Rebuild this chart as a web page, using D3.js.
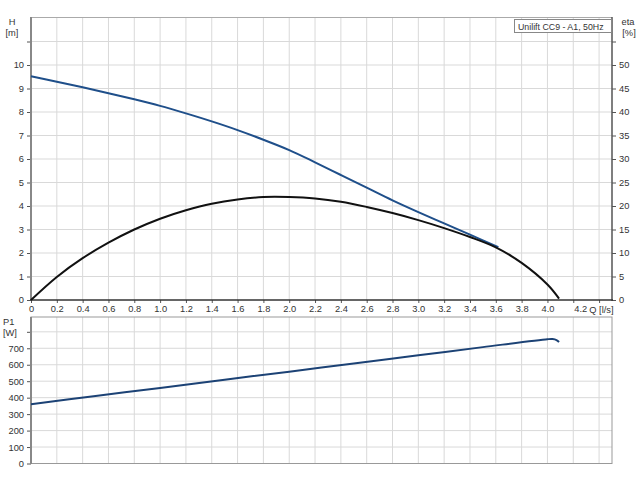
<!DOCTYPE html>
<html><head><meta charset="utf-8">
<script src="https://cdn.jsdelivr.net/npm/d3@7"></script>
<style>
body{margin:0;background:#fff;}
svg text{font-family:"Liberation Sans",Arial,sans-serif;fill:#333;}
</style></head>
<body>
<svg id="c" width="640" height="480"></svg>
<script>
// ---- data ----
const headQ   = [0,0.2,0.4,0.6,0.8,1.0,1.2,1.4,1.6,1.8,2.0,2.2,2.4,2.6,2.8,3.0,3.2,3.4,3.62];
const headH   = [9.52,9.29,9.05,8.80,8.54,8.26,7.94,7.60,7.23,6.82,6.38,5.86,5.32,4.78,4.24,3.74,3.26,2.78,2.25];
const etaQ    = [0,0.2,0.4,0.6,0.8,1.0,1.2,1.4,1.6,1.8,2.0,2.2,2.4,2.6,2.8,3.0,3.2,3.4,3.6,3.8,4.0,4.09];
const etaV    = [0,4.9,8.9,12.2,15.0,17.3,19.1,20.5,21.4,21.9,21.9,21.6,20.9,19.8,18.5,17.0,15.3,13.4,11.2,7.9,3.3,0.3];
const powerQ  = [0,0.5,1.0,1.5,2.0,2.5,3.0,3.5,4.0,4.04,4.07,4.09];
const powerP  = [360,410,459,509,558,608,657,707,755,756,750,738];
const qTicks  = [0,0.2,0.4,0.6,0.8,1.0,1.2,1.4,1.6,1.8,2.0,2.2,2.4,2.6,2.8,3.0,3.2,3.4,3.6,3.8,4.0,4.2];
const hTicks  = [0,1,2,3,4,5,6,7,8,9,10];
const etaTicks= [0,5,10,15,20,25,30,35,40,45,50];
const pTicks  = [0,100,200,300,400,500,600,700];
const legendText = "Unilift CC9 - A1, 50Hz";

const svg = d3.select("#c");
const X0=31, X1=612;
const x = d3.scaleLinear().domain([0,4.5]).range([X0,X1]);
const yH = d3.scaleLinear().domain([0,12]).range([300,18]);
const yE = d3.scaleLinear().domain([0,60]).range([300,18]);
const yP = d3.scaleLinear().domain([0,890]).range([463.5,317]);
const gridQ = d3.range(1,23).map(i=>+(i*0.2).toFixed(1));
const FS = "9.3px";

function grid(yScale, yVals, top, bottom){
  const g = svg.append("g");
  g.selectAll(".v").data(gridQ).join("line")
    .attr("x1",d=>x(d)).attr("x2",d=>x(d)).attr("y1",top).attr("y2",bottom)
    .attr("stroke","#d9d9d9").attr("stroke-width",1);
  g.selectAll(".h").data(yVals).join("line")
    .attr("x1",X0).attr("x2",X1).attr("y1",d=>yScale(d)).attr("y2",d=>yScale(d))
    .attr("stroke","#d9d9d9").attr("stroke-width",1);
}
grid(yH, d3.range(1,12), 18, 300);
grid(yP, d3.range(1,9).map(i=>i*100), 317, 463.5);

function styleAxis(g){
  g.select(".domain").remove();
  g.selectAll(".tick line").attr("stroke","#555");
  g.selectAll(".tick text").style("font-size",FS).attr("fill","#333");
}
// top chart axes
svg.append("g").attr("transform",`translate(${X0},0)`)
  .call(d3.axisLeft(yH).tickValues(d3.range(0,12)).tickSize(4).tickPadding(3)
    .tickFormat(d=>hTicks.includes(d)?d:""))
  .call(styleAxis);
svg.append("g").attr("transform",`translate(${X1},0)`)
  .call(d3.axisRight(yE).tickValues(d3.range(0,60,5)).tickSize(4).tickPadding(3)
    .tickFormat(d=>etaTicks.includes(d)?d:""))
  .call(styleAxis);
const xa = svg.append("g").attr("transform",`translate(0,300)`)
  .call(d3.axisBottom(x).tickValues(qTicks.concat([4.4])).tickSize(3).tickPadding(2)
    .tickFormat(d=>qTicks.includes(d)?(d===0?"0":d3.format(".1f")(d)):""))
  .call(styleAxis);
xa.selectAll(".tick text").filter(d=>d===4.2).attr("dx",7);
svg.append("text").attr("x",x(4.2)+16).attr("y",312.5).style("font-size",FS).text("Q [l/s]");

// bottom chart axes
svg.append("g").attr("transform",`translate(${X0},0)`)
  .call(d3.axisLeft(yP).tickValues(d3.range(0,900,100)).tickSize(4).tickPadding(3)
    .tickFormat(d=>pTicks.includes(d)?d:""))
  .call(styleAxis);

// frames
svg.append("line").attr("x1",X0).attr("x2",X1).attr("y1",17.5).attr("y2",17.5).attr("stroke","#aaa");
svg.append("line").attr("x1",X0).attr("x2",X0).attr("y1",17).attr("y2",301).attr("stroke","#888").attr("stroke-width",2);
svg.append("line").attr("x1",X1).attr("x2",X1).attr("y1",17).attr("y2",301).attr("stroke","#555").attr("stroke-width",1.5);
svg.append("line").attr("x1",X0-1).attr("x2",X1+1).attr("y1",300).attr("y2",300).attr("stroke","#333").attr("stroke-width",1.5);
svg.append("rect").attr("x",X0).attr("y",317).attr("width",X1-X0).attr("height",146.5)
  .attr("fill","none").attr("stroke","#999").attr("stroke-width",1);
svg.append("line").attr("x1",X0).attr("x2",X0).attr("y1",317).attr("y2",464).attr("stroke","#888").attr("stroke-width",2);

// unit labels
const lab=(t,xx,yy,anchor)=>svg.append("text").attr("x",xx).attr("y",yy).attr("text-anchor",anchor||"start").style("font-size",FS).text(t);
lab("H",12,25,"middle"); lab("[m]",12,36,"middle");
lab("eta",628,25,"middle"); lab("[%]",629,36,"middle");
lab("P1",3,325); lab("[W]",3,336);

// curves
const crv = d3.curveCatmullRom.alpha(0.5);
const lineH = d3.line().x((d,i)=>x(headQ[i])).y(d=>yH(d)).curve(crv);
const lineE = d3.line().x((d,i)=>x(etaQ[i])).y(d=>yE(d)).curve(crv);
const lineP = d3.line().x((d,i)=>x(powerQ[i])).y(d=>yP(d)).curve(crv);
svg.append("path").attr("d",lineH(headH)).attr("fill","none").attr("stroke","#1f4f8a").attr("stroke-width",2);
svg.append("path").attr("d",lineE(etaV)).attr("fill","none").attr("stroke","#111").attr("stroke-width",2);
svg.append("path").attr("d",lineP(powerP)).attr("fill","none").attr("stroke","#1c4275").attr("stroke-width",2);

// legend
const lg = svg.append("g");
lg.append("rect").attr("x",514.5).attr("y",19.5).attr("width",97).attr("height",13)
  .attr("fill","#fff").attr("stroke","#888");
lg.append("text").attr("x",518).attr("y",29.5).style("font-size","8.8px").text(legendText);
</script>
</body></html>
